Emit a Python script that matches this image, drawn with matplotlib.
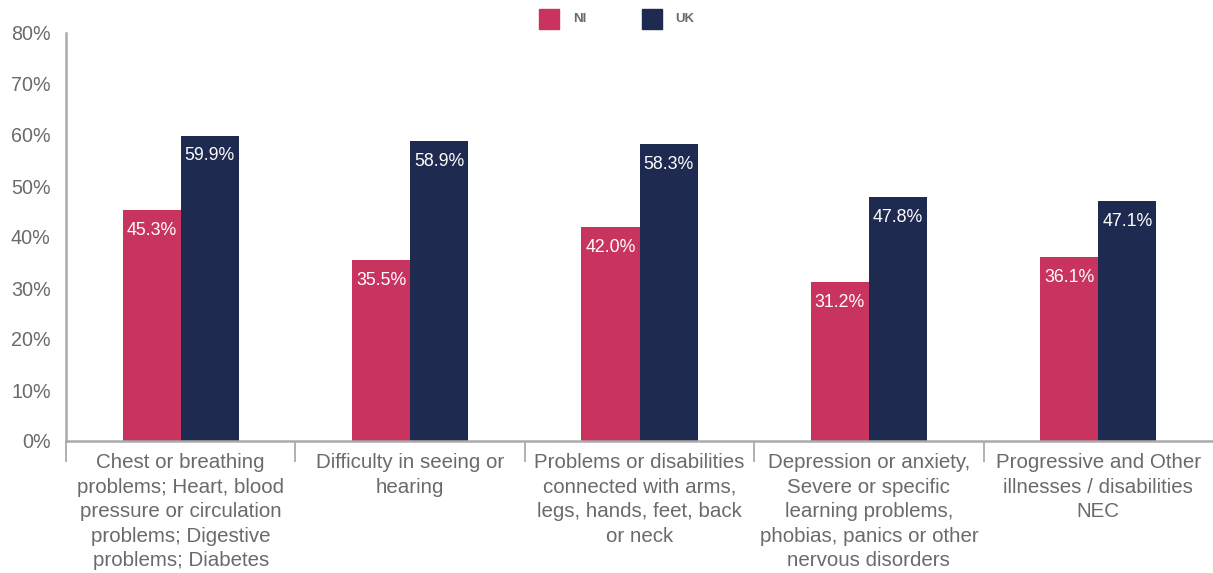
import matplotlib
matplotlib.use("Agg")
import matplotlib.pyplot as plt
from matplotlib.patches import Rectangle
import numpy as np

plt.rcParams['font.family'] = ['Liberation Sans', 'DejaVu Sans']

categories = [
    "Chest or breathing\nproblems; Heart, blood\npressure or circulation\nproblems; Digestive\nproblems; Diabetes",
    "Difficulty in seeing or\nhearing",
    "Problems or disabilities\nconnected with arms,\nlegs, hands, feet, back\nor neck",
    "Depression or anxiety,\nSevere or specific\nlearning problems,\nphobias, panics or other\nnervous disorders",
    "Progressive and Other\nillnesses / disabilities\nNEC",
]
ni_values = [45.3, 35.5, 42.0, 31.2, 36.1]
uk_values = [59.9, 58.9, 58.3, 47.8, 47.1]
series_names = ["NI", "UK"]
y_ticks = [0, 10, 20, 30, 40, 50, 60, 70, 80]

ni_color = "#C9335F"
uk_color = "#1E2A4F"
axis_grey = "#AAAAAA"
text_grey = "#6A6A6A"

fig = plt.figure(figsize=(12.13, 5.73), dpi=100)
ax = fig.add_axes([66 / 1213, 1 - 441 / 573, (1213 - 66) / 1213, (441 - 33) / 573])

x = np.arange(len(categories))
bw = 0.253
ax.bar(x - bw / 2, ni_values, width=bw, color=ni_color, zorder=2)
ax.bar(x + bw / 2, uk_values, width=bw, color=uk_color, zorder=2)

for xi, v in zip(x, ni_values):
    ax.text(xi - bw / 2, v - 4.0, f"{v:.1f}%", ha="center", va="center",
            color="white", fontsize=12.8)
for xi, v in zip(x, uk_values):
    ax.text(xi + bw / 2, v - 4.0, f"{v:.1f}%", ha="center", va="center",
            color="white", fontsize=12.8)

ax.set_xlim(-0.5, len(categories) - 0.5)
ax.set_ylim(0, 80)
ax.set_yticks(y_ticks)
ax.set_yticklabels([f"{t}%" for t in y_ticks], fontsize=14.2, color=text_grey)
ax.tick_params(axis="y", length=0, pad=11)

# category boundary ticks below the axis
ax.set_xticks(np.arange(-0.5, len(categories) - 0.5, 1.0))
ax.set_xticklabels([])
ax.tick_params(axis="x", length=15, width=1.3, color=axis_grey, direction="out")
ax.set_xticks(x, minor=True)
ax.set_xticklabels(categories, minor=True, fontsize=14.8, color=text_grey,
                   linespacing=1.36, va="top")
ax.tick_params(axis="x", which="minor", length=0, pad=9)

for side in ["top", "right"]:
    ax.spines[side].set_visible(False)
ax.spines["left"].set_color(axis_grey)
ax.spines["left"].set_linewidth(1.8)
ax.spines["bottom"].set_color(axis_grey)
ax.spines["bottom"].set_linewidth(1.8)

# legend across the top
for (px, tx), name, col in zip([(539, 573), (642, 675)], series_names,
                               [ni_color, uk_color]):
    fig.patches.append(Rectangle((px / 1213, 1 - 29 / 573), 20 / 1213, 20 / 573,
                                 transform=fig.transFigure, color=col))
    fig.text(tx / 1213, 1 - 19 / 573, name, fontsize=9.5, fontweight="bold",
             color=text_grey, va="center", ha="left")

fig.savefig("out.png", dpi=100)
